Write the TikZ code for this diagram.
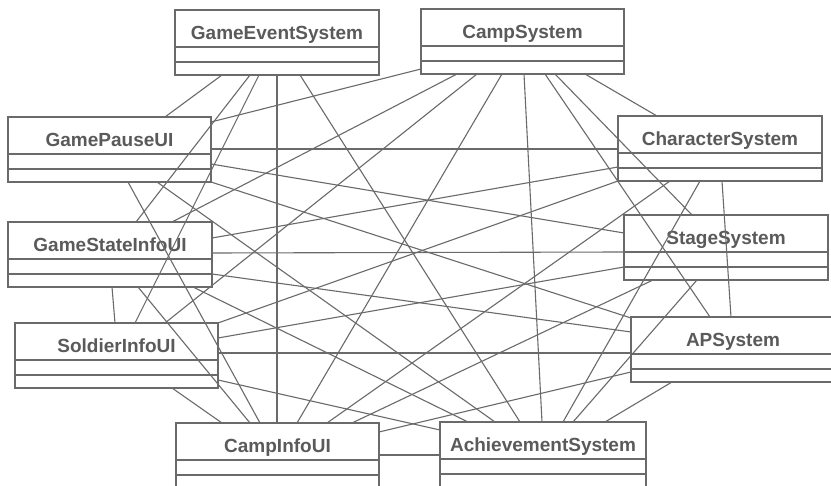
\documentclass[tikz,border=0pt]{standalone}
\usepackage{fontspec}
\setmainfont{Liberation Sans}
\definecolor{ink}{HTML}{6A6A6A}
\definecolor{titleink}{HTML}{5A5A5A}
\tikzset{
  classrect/.style={draw=ink, line width=1.2pt, rectangle, minimum height=65pt,
    inner sep=0pt, outer sep=0pt, anchor=north west},
  boxline/.style={draw=ink, line width=1.2pt},
  classtitle/.style={anchor=base, inner sep=0pt, text=titleink,
    font=\fontsize{19pt}{22pt}\selectfont\bfseries},
  link/.style={draw=ink, line width=1.1pt},
}
% one UML class: name, left, top, width, title
\newcommand\umlclass[5]{%
  \node[classrect, minimum width=#4pt] (#1) at (#2,#3) {};
  \draw[boxline] ([yshift=-37pt]#1.north west) -- ([yshift=-37pt]#1.north east)
                 ([yshift=-52pt]#1.north west) -- ([yshift=-52pt]#1.north east);
  \node[classtitle] (#1-title) at ([yshift=-29.5pt]#1.north) {#5};
}
\begin{document}
\begin{tikzpicture}[x=1pt, y=-1pt]
\useasboundingbox (0,0) rectangle (831,486);
\fill[white] (0,0) rectangle (831,486);
\clip (0,0) rectangle (831,486);

% classes
\umlclass{ges}{175}{10}{204}{GameEventSystem}
\umlclass{cs}{421}{9}{203}{CampSystem}
\umlclass{gpu}{8}{117}{203}{GamePauseUI}
\umlclass{chs}{618}{116}{204}{CharacterSystem}
\umlclass{gsi}{8}{222}{204}{GameStateInfoUI}
\umlclass{sts}{624}{215}{204}{StageSystem}
\umlclass{siu}{15}{323}{203}{SoldierInfoUI}
\umlclass{aps}{631}{317}{204}{APSystem}
\umlclass{ciu}{176}{423}{203}{CampInfoUI}
\umlclass{ach}{440}{422}{206}{AchievementSystem}

% associations
\draw[link] ([xshift=47pt]ges.south west) -- ([xshift=157pt]gpu.north west);
\draw[link] ([xshift=75pt]ges.south west) -- ([xshift=128pt]gsi.north west);
\draw[link] ([xshift=84pt]ges.south west) -- ([xshift=120pt]siu.north west);
\draw[link] (ges.south) -- (ges.south |- ciu.north);
\draw[link] ([xshift=125pt]ges.south west) -- ([xshift=80pt]ach.north west);

\draw[link] ([yshift=5pt]cs.south west) -- ([yshift=-5pt]gpu.north east);
\draw[link] ([xshift=36pt]cs.south west) -- ([xshift=164pt]gsi.north west);
\draw[link] ([xshift=56pt]cs.south west) -- ([xshift=150pt]siu.north west);
\draw[link] ([xshift=81pt]cs.south west) -- ([xshift=121pt]ciu.north west);
\draw[link] ([xshift=103pt]cs.south west) -- ([xshift=102pt]ach.north west);
\draw[link] ([xshift=124pt]cs.south west) -- ([xshift=79pt]aps.north west);
\draw[link] ([xshift=134pt]cs.south west) -- ([xshift=68pt]sts.north west);
\draw[link] ([xshift=164pt]cs.south west) -- ([xshift=39pt]chs.north west);

\draw[link] ([yshift=-32pt]gpu.north east) -- ([yshift=-33pt]chs.north west);
\draw[link] ([yshift=-47pt]gpu.north east) -- ([yshift=-18pt]sts.north west);
\draw[link] (gpu.south east) -- ([yshift=-1pt]aps.north west);
\draw[link] ([xshift=120pt]gpu.south west) -- ([xshift=84pt]ciu.north west);
\draw[link] ([xshift=149pt]gpu.south west) -- ([xshift=55pt]ach.north west);

\draw[link] ([xshift=104pt]gsi.south west) -- ([xshift=100pt]siu.north west);
\draw[link] ([yshift=-31pt]gsi.north east) -- ([yshift=-37pt]sts.north west);
\draw[link] ([yshift=-52pt]gsi.north east) -- ([yshift=-15pt]aps.north west);
\draw[link] ([yshift=-16pt]gsi.north east) -- ([yshift=-51pt]chs.north west);
\draw[link] ([xshift=130pt]gsi.south west) -- ([xshift=74pt]ciu.north west);
\draw[link] ([xshift=185pt]gsi.south west) -- ([xshift=28pt]ach.north west);

\draw[link] (siu.north east) -- (chs.south west);
\draw[link] ([yshift=-15pt]siu.north east) -- ([yshift=-52pt]sts.north west);
\draw[link] ([yshift=-30pt]siu.north east) -- ([yshift=-36pt]aps.north west);
\draw[link] ([yshift=-57pt]siu.north east) -- ([yshift=-8pt]ach.north west);
\draw[link] ([xshift=157pt]siu.south west) -- ([xshift=46pt]ciu.north west);

\draw[link] ([xshift=52pt]chs.south west) -- ([xshift=151pt]ciu.north west);
\draw[link] ([xshift=82pt]chs.south west) -- ([xshift=123pt]ach.north west);
\draw[link] ([xshift=104pt]chs.south west) -- ([xshift=100pt]aps.north west);

\draw[link] ([xshift=29pt]sts.south west) -- ([xshift=176pt]ciu.north west);
\draw[link] ([xshift=73pt]sts.south west) -- ([xshift=133pt]ach.north west);

\draw[link] ([xshift=41pt]aps.south west) -- ([xshift=165pt]ach.north west);

\draw[link] ([yshift=-9pt]ciu.north east) -- ([yshift=-55pt]aps.north west);
\draw[link] ([yshift=-32pt]ciu.north east) -- ([yshift=-33pt]ach.north west);
\end{tikzpicture}
\end{document}
